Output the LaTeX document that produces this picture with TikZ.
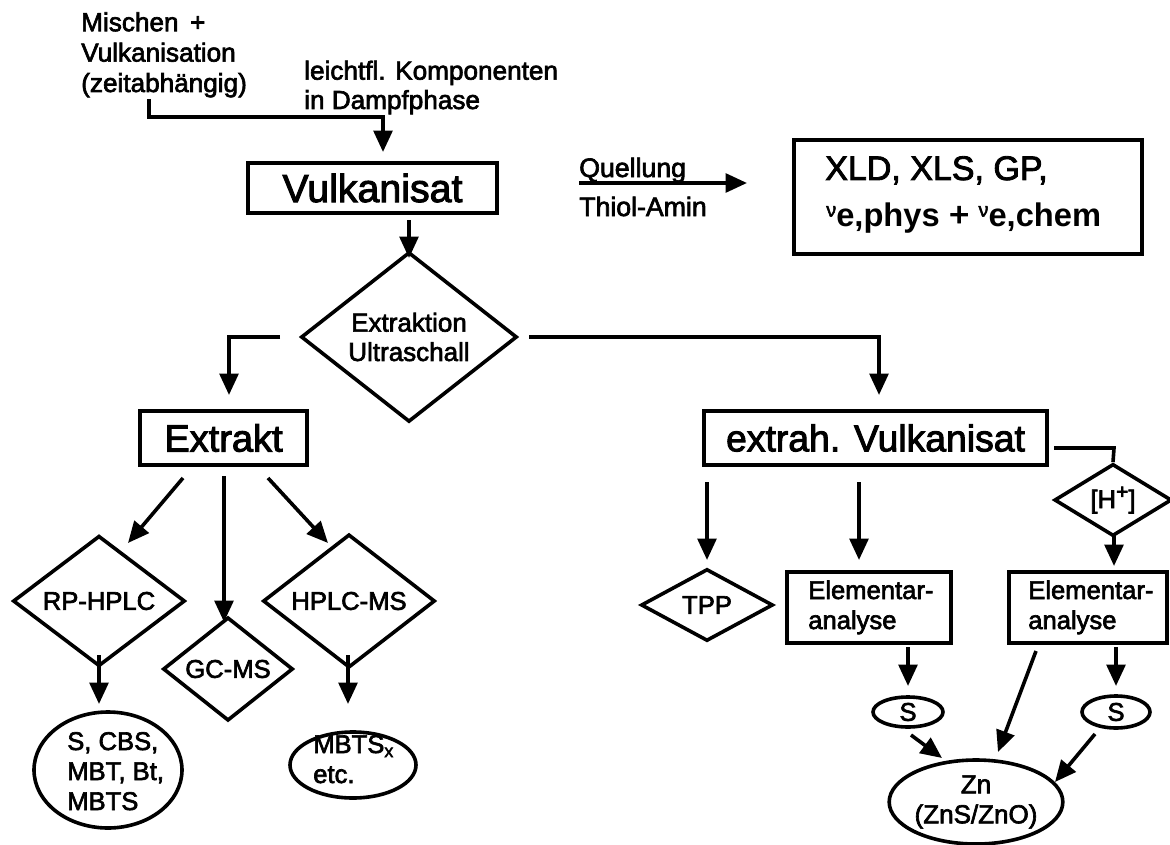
\documentclass[tikz,border=0pt]{standalone}
\usepackage{fontspec}
\setmainfont{Liberation Sans}[UprightFeatures={FakeBold=2.5}]
\usetikzlibrary{shapes.geometric,arrows.meta}
\tikzset{
  lw/.style={line width=2.7pt},
  arr/.style={lw,-{Triangle[length=16pt,width=14pt]}},
  plain/.style={lw},
  boxnode/.style={draw,lw,rectangle,inner sep=0pt},
  dianode/.style={draw,lw,diamond,inner sep=0pt},
  ellnode/.style={draw,lw,ellipse,inner sep=0pt},
  fbig/.style={font=\fontsize{28.5pt}{32pt}\selectfont},
  ftop/.style={font=\fontsize{19.6pt}{22.8pt}\selectfont},
  fmid/.style={font=\fontsize{19.2pt}{22.5pt}\selectfont},
  fsm/.style={font=\fontsize{20pt}{22.5pt}\selectfont},
  fxl/.style={font=\fontsize{25.5pt}{28pt}\selectfont},
}
\begin{document}
\begin{tikzpicture}[x=0.75pt,y=-0.75pt]
\useasboundingbox[fill=white] (0,0) rectangle (1170,845);

% ---- top texts
\node[ftop,anchor=base west,align=left,inner sep=0pt] (mix) at (81,92)
  {Mischen\, +\\Vulkanisation\\(zeitabhängig)};
\node[ftop,font=\fontsize{19.6pt}{22pt}\selectfont,anchor=base west,align=left,inner sep=0pt] (vap) at (304,109)
  {leichtfl. Komponenten\\in Dampfphase};

% ---- Vulkanisat
\node[boxnode,font=\fontsize{29.5pt}{32pt}\selectfont,minimum width=186.75pt,minimum height=37.5pt] (vulk) at (372.5,188) {Vulkanisat};

\coordinate (c1) at (149,99);
\coordinate (c2) at (149,117);
\coordinate (c3) at (383,117);
\coordinate (c4) at (383,152);
\draw[arr] (c1) -- (c2) -- (c3) -- (c4);

% ---- Quellung arrow and XLD box
\coordinate (q1) at (579,183);
\coordinate (q2) at (747,183);
\draw[arr] (q1) -- (q2);
\node[fsm,anchor=base west,inner sep=0pt] (quel) at (579,177) {Quellung};
\node[fsm,anchor=base west,inner sep=0pt] (thio) at (579,216) {Thiol-Amin};

\node[boxnode,minimum width=261pt,minimum height=85.5pt] (xld) at (968,197) {};
\node[fxl,anchor=base west,inner sep=0pt] (xl1) at (825,180) {XLD, XLS, GP,};
\node[fxl,anchor=base west,inner sep=0pt] (xl2) at (826,226)
  {{\fontsize{15pt}{15pt}\selectfont\raisebox{7pt}{ν}}{\fontsize{24.5pt}{24pt}\selectfont\bfseries e,phys} + {\fontsize{15pt}{15pt}\selectfont\raisebox{7pt}{ν}}{\fontsize{24.5pt}{24pt}\selectfont\bfseries e,chem}};

% ---- Extraktion diamond
\coordinate (v1) at (409,220);
\coordinate (v2) at (409,258);
\draw[arr] (v1) -- (v2);
\node[dianode,align=center,font=\fontsize{19.5pt}{22pt}\selectfont,minimum width=162pt,minimum height=106.5pt] (extr) at (409,337)
  {Extraktion\\Ultraschall};

\coordinate (l1) at (280,337);
\coordinate (l2) at (229,337);
\coordinate (l3) at (229,395);
\draw[arr] (l1) -- (l2) -- (l3);
\coordinate (r1) at (529,337);
\coordinate (r2) at (879,337);
\coordinate (r3) at (879,395);
\draw[arr] (r1) -- (r2) -- (r3);

% ---- Extrakt branch
\node[boxnode,fbig,minimum width=125.25pt,minimum height=40.5pt] (ext) at (223.5,438) {Extrakt};

\node[dianode,fmid,minimum width=129pt,minimum height=70.5pt] (rp) at (99,601) {RP-HPLC};
\node[dianode,fmid,minimum width=97.5pt,minimum height=54pt] (gc) at (228,669) {GC-MS};
\node[dianode,fmid,minimum width=129pt,minimum height=70.5pt] (hm) at (349,601) {HPLC-MS};

\coordinate (e1) at (183,478);
\coordinate (e2) at (128,543);
\coordinate (e3) at (224,476);
\coordinate (e4) at (224,622);
\coordinate (e5) at (268,478);
\coordinate (e6) at (328,543);
\draw[arr] (e1) -- (e2);
\draw[arr] (e3) -- (e4);
\draw[arr] (e5) -- (e6);

\node[ellnode,minimum width=111pt,minimum height=87pt] (scbs) at (108,770) {};
\node[fmid,align=left,anchor=base west,inner sep=0pt] (scbst) at (67,810)
  {S, CBS,\\MBT, Bt,\\MBTS};
\node[ellnode,minimum width=94.5pt,minimum height=49.5pt] (mbts) at (353,765) {};
\node[fmid,align=left,anchor=base west,inner sep=0pt] (mbtst) at (313,783)
  {MBTS\textsubscript{x}\\etc.};

\coordinate (p1) at (99,655);
\coordinate (p2) at (99,704);
\coordinate (p3) at (348,655);
\coordinate (p4) at (348,704);
\draw[arr] (p1) -- (p2);
\draw[arr] (p3) -- (p4);

% ---- extrah. Vulkanisat branch
\node[boxnode,font=\fontsize{28pt}{32pt}\selectfont,minimum width=257.25pt,minimum height=40.5pt] (exv) at (875.5,438) {extrah. Vulkanisat};

\node[dianode,fmid,minimum width=88pt,minimum height=52.5pt] (hp) at (1113,500)
  {[H{\fontsize{16pt}{16pt}\selectfont\raisebox{7pt}{+}}]};
\coordinate (h1) at (1054,448);
\coordinate (h2) at (1114,448);
\draw[plain] (h1) -- (h2) -- (hp.north);

\node[dianode,fmid,minimum width=99pt,minimum height=54pt] (tpp) at (707,605) {TPP};
\node[boxnode,minimum width=123pt,minimum height=53.25pt] (el1) at (869,607.5) {};
\node[fmid,align=left,anchor=base west,inner sep=0pt] (el1t) at (808,629) {Elementar-\\analyse};
\node[boxnode,minimum width=118.5pt,minimum height=53.25pt] (el2) at (1088,607.5) {};
\node[fmid,align=left,anchor=base west,inner sep=0pt] (el2t) at (1028,629) {Elementar-\\analyse};

\coordinate (t1) at (707,482);
\coordinate (t2) at (707,560);
\coordinate (t3) at (859,482);
\coordinate (t4) at (859,560);
\draw[arr] (t1) -- (t2);
\draw[arr] (t3) -- (t4);
\coordinate (hh1) at (1114,535);
\coordinate (hh2) at (1114,566);
\draw[arr] (hh1) -- (hh2);

\node[ellnode,fmid,minimum width=52.5pt,minimum height=22.5pt] (s1) at (908,712) {S};
\node[ellnode,fmid,minimum width=51pt,minimum height=24pt] (s2) at (1116,712) {S};
\node[ellnode,align=center,font=\fontsize{19.5pt}{22.5pt}\selectfont,minimum width=106.5pt,minimum height=63pt] (zn) at (976,802) {Zn\\(ZnS/ZnO)};

\coordinate (a1) at (908,647);
\coordinate (a2) at (908,686);
\coordinate (a3) at (1116,647);
\coordinate (a4) at (1116,686);
\draw[arr] (a1) -- (a2);
\draw[arr] (a3) -- (a4);
\coordinate (b1) at (911,735);
\coordinate (b2) at (942,758);
\coordinate (b3) at (1036,651);
\coordinate (b4) at (998,752);
\coordinate (b5) at (1095,734);
\coordinate (b6) at (1055,782);
\draw[arr] (b1) -- (b2);
\draw[arr] (b3) -- (b4);
\draw[arr] (b5) -- (b6);
\end{tikzpicture}
\end{document}
